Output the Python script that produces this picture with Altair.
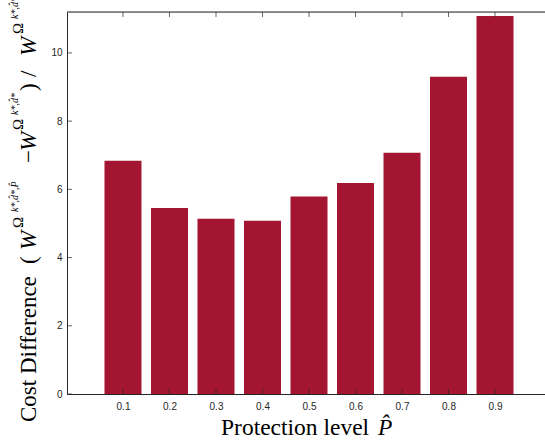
import altair as alt
import pandas as pd

# ---- data ----
levels = [0.1, 0.2, 0.3, 0.4, 0.5, 0.6, 0.7, 0.8, 0.9]
cost_diff = [6.84, 5.45, 5.14, 5.08, 5.79, 6.19, 7.07, 9.30, 11.08]
x_tick_values = [0.1, 0.2, 0.3, 0.4, 0.5, 0.6, 0.7, 0.8, 0.9]
y_tick_values = [0, 2, 4, 6, 8, 10]

# ---- layout / style ----
PAD_L, PAD_T = 67, 12
W, H = 478, 382
XMIN, XMAX = -0.0204, 1.0075
YMIN, YMAX = 0, 11.2
AX = "#262626"
BAR = "#A31531"
SERIF = "Liberation Serif"
SANS = "Liberation Sans"

df = pd.DataFrame({"level": levels, "value": cost_diff})
xticks_df = pd.DataFrame({"level": x_tick_values})
yticks_df = pd.DataFrame({"value": y_tick_values})
one = pd.DataFrame({"k": [0]})

xs = alt.Scale(domain=[XMIN, XMAX], nice=False, zero=False, padding=0)
ys = alt.Scale(domain=[YMIN, YMAX], nice=False, padding=0)

x_axis = alt.Axis(
    values=x_tick_values, format=".1f", tickSize=0, labelPadding=7,
    domainColor=AX, domainWidth=1, labelColor=AX, labelFont=SANS,
    labelFontSize=10, grid=False, title="",
)
y_axis = alt.Axis(
    values=y_tick_values, tickSize=0, labelPadding=5, domainColor=AX,
    domainWidth=1, labelColor=AX, labelFont=SANS, labelFontSize=10,
    grid=False, title="",
)

bars = alt.Chart(df).mark_bar(color=BAR, width=37).encode(
    x=alt.X("level:Q", scale=xs, axis=x_axis),
    y=alt.Y("value:Q", scale=ys, axis=y_axis),
)

bottom_ticks = alt.Chart(xticks_df).mark_tick(
    orient="vertical", size=5, thickness=1, color=AX, yOffset=-2.5
).encode(
    x=alt.X("level:Q", scale=xs, axis=x_axis),
    y=alt.YDatum(YMIN, scale=ys, axis=y_axis),
)

top_ticks = alt.Chart(xticks_df).mark_tick(
    orient="vertical", size=5, thickness=1, color=AX, yOffset=2.5
).encode(
    x=alt.X("level:Q", scale=xs, axis=x_axis),
    y=alt.YDatum(YMAX, scale=ys, axis=y_axis),
)

left_ticks = alt.Chart(yticks_df).mark_tick(
    orient="horizontal", size=5, thickness=1, color=AX, xOffset=2.5
).encode(
    y=alt.Y("value:Q", scale=ys, axis=y_axis),
    x=alt.XDatum(XMIN, scale=xs, axis=x_axis),
)

top_line = alt.Chart(one).mark_rule(color=AX, strokeWidth=1).encode(
    y=alt.YDatum(YMAX, scale=ys, axis=y_axis)
)


def seg(text, x_px, y_px, size, italic=False, angle=270):
    kw = dict(angle=angle, align="left", baseline="alphabetic", font=SERIF,
              fontSize=size, color="black")
    if italic:
        kw["fontStyle"] = "italic"
    return alt.Chart(one).mark_text(**kw).encode(
        x=alt.value(x_px - PAD_L), y=alt.value(y_px - PAD_T), text=alt.value(text)
    )


y_title_parts = [
    seg("Cost Difference", 36, 422, 23),
    seg("(", 36, 264, 23),
    seg("W", 36, 250, 23, True),
    seg("Ω", 23, 228, 15),
    seg("k*,d\u0302*,P\u0302", 18, 212, 10, True),
    seg("\u2212", 36, 163, 23),
    seg("W", 36, 151, 23, True),
    seg("Ω", 23, 130, 15),
    seg("k*,d\u0302*", 18, 115, 10, True),
    seg(")", 36, 91, 23),
    seg("/", 36, 77, 23),
    seg("W", 36, 56, 23, True),
    seg("Ω", 23, 34, 15),
    seg("k*,d\u0302*", 18, 19, 10, True),
]

x_title_parts = [
    seg("Protection level", 221, 435, 23.5, angle=0),
    seg("P\u0302", 378, 435, 23.5, True, angle=0),
]

chart = alt.layer(
    bars, bottom_ticks, top_ticks, left_ticks, top_line,
    *y_title_parts, *x_title_parts
).properties(
    width=W,
    height=H,
    autosize=alt.AutoSizeParams(type="none"),
    padding={"left": PAD_L, "top": PAD_T, "right": 0, "bottom": 50},
).configure_view(strokeWidth=0).configure(background="white")

chart.save("out.html", embed_options={"renderer": "svg", "actions": False})
